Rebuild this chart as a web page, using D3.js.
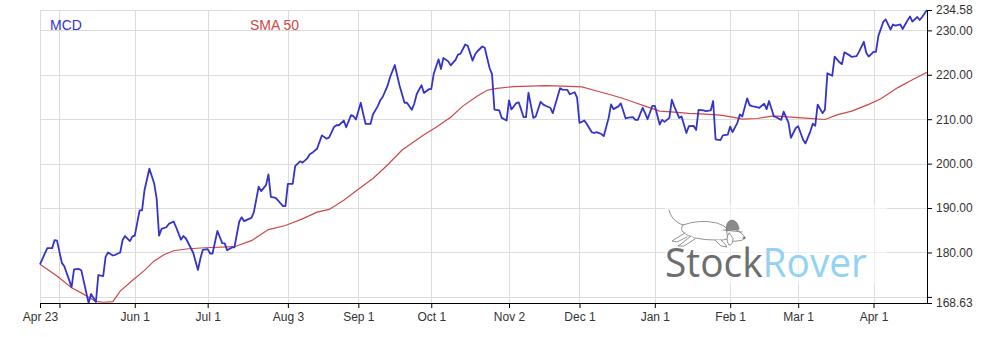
<!DOCTYPE html>
<html><head><meta charset="utf-8">
<script src="https://cdn.jsdelivr.net/npm/d3@7"></script>
<style>
html,body{margin:0;padding:0;background:#fff;}
svg{display:block;font-family:Arial,"Liberation Sans",sans-serif;}
</style></head><body>
<svg id="chart" width="987" height="337"></svg>
<script>
// ---------- data ----------
const seriesNames = ["MCD", "SMA 50"];
const xDomain = ["2020-04-23", "2021-04-23"];

const priceDates = [
"2020-04-23","2020-04-26","2020-04-28","2020-04-29","2020-04-30","2020-05-02","2020-05-03","2020-05-06","2020-05-07","2020-05-09",
"2020-05-10","2020-05-13","2020-05-14","2020-05-16","2020-05-17","2020-05-19","2020-05-20","2020-05-21","2020-05-23","2020-05-24",
"2020-05-26","2020-05-27","2020-05-28","2020-05-30","2020-05-31","2020-06-01","2020-06-03","2020-06-04","2020-06-05","2020-06-07",
"2020-06-09","2020-06-10","2020-06-11","2020-06-12","2020-06-14","2020-06-15","2020-06-17","2020-06-18","2020-06-20","2020-06-21",
"2020-06-22","2020-06-25","2020-06-27","2020-06-28","2020-06-29","2020-07-01","2020-07-02","2020-07-03","2020-07-05","2020-07-07",
"2020-07-08","2020-07-09","2020-07-11","2020-07-12","2020-07-14","2020-07-15","2020-07-16","2020-07-18","2020-07-19","2020-07-20",
"2020-07-22","2020-07-23","2020-07-25","2020-07-26","2020-07-27","2020-07-29","2020-08-01","2020-08-02","2020-08-03","2020-08-05",
"2020-08-06","2020-08-08","2020-08-09","2020-08-11","2020-08-12","2020-08-13","2020-08-15","2020-08-17","2020-08-19","2020-08-20",
"2020-08-22","2020-08-23","2020-08-24","2020-08-26","2020-08-27","2020-08-29","2020-08-30","2020-08-31","2020-09-02","2020-09-03",
"2020-09-04","2020-09-06","2020-09-07","2020-09-09","2020-09-10","2020-09-11","2020-09-13","2020-09-14","2020-09-16","2020-09-17",
"2020-09-18","2020-09-20","2020-09-21","2020-09-23","2020-09-24","2020-09-25","2020-09-27","2020-09-28","2020-09-30","2020-10-01",
"2020-10-02","2020-10-04","2020-10-05","2020-10-06","2020-10-08","2020-10-09","2020-10-11","2020-10-12","2020-10-13","2020-10-15",
"2020-10-16","2020-10-18","2020-10-19","2020-10-20","2020-10-22","2020-10-23","2020-10-25","2020-10-26","2020-10-27","2020-10-29",
"2020-10-30","2020-11-01","2020-11-02","2020-11-03","2020-11-05","2020-11-06","2020-11-08","2020-11-09","2020-11-10","2020-11-12",
"2020-11-13","2020-11-15","2020-11-16","2020-11-17","2020-11-19","2020-11-20","2020-11-23","2020-11-24","2020-11-26","2020-11-27",
"2020-11-29","2020-11-30","2020-12-01","2020-12-03","2020-12-04","2020-12-06","2020-12-07","2020-12-08","2020-12-10","2020-12-11",
"2020-12-13","2020-12-14","2020-12-15","2020-12-17","2020-12-18","2020-12-20","2020-12-21","2020-12-23","2020-12-24","2020-12-25",
"2020-12-27","2020-12-28","2020-12-29","2020-12-31","2021-01-01","2021-01-03","2021-01-04","2021-01-05","2021-01-07","2021-01-08",
"2021-01-09","2021-01-11","2021-01-12","2021-01-14","2021-01-15","2021-01-17","2021-01-18","2021-01-19","2021-01-21","2021-01-22",
"2021-01-24","2021-01-25","2021-01-26","2021-01-28","2021-01-29","2021-01-31","2021-02-01","2021-02-02","2021-02-04","2021-02-05",
"2021-02-06","2021-02-08","2021-02-09","2021-02-10","2021-02-12","2021-02-13","2021-02-15","2021-02-16","2021-02-17","2021-02-19",
"2021-02-20","2021-02-22","2021-02-23","2021-02-25","2021-02-26","2021-02-28","2021-03-01","2021-03-03","2021-03-04","2021-03-06",
"2021-03-07","2021-03-08","2021-03-09","2021-03-11","2021-03-12","2021-03-13","2021-03-15","2021-03-16","2021-03-18","2021-03-19",
"2021-03-20","2021-03-22","2021-03-23","2021-03-25","2021-03-26","2021-03-28","2021-03-29","2021-03-30","2021-04-01","2021-04-02",
"2021-04-03","2021-04-05","2021-04-06","2021-04-08","2021-04-09","2021-04-10","2021-04-12","2021-04-13","2021-04-14","2021-04-16",
"2021-04-17","2021-04-19","2021-04-20","2021-04-21","2021-04-23"
];
const priceValues = [
177.34,180.98,180.98,182.80,182.66,177.66,176.89,172.20,176.20,176.30,
175.98,168.63,170.68,168.86,174.93,174.70,179.02,180.00,179.32,179.48,
180.00,182.80,183.70,182.57,183.57,183.80,189.48,189.48,194.02,198.86,
195.52,192.11,183.80,185.30,185.68,186.43,186.98,185.68,182.89,183.70,
183.20,180.00,176.07,178.64,180.61,180.75,179.77,179.77,184.84,182.11,
182.05,180.52,181.14,181.14,186.98,187.95,187.05,187.57,187.80,189.09,
194.84,193.80,195.16,197.57,192.50,192.27,190.45,190.45,195.45,195.45,
199.43,200.52,200.23,201.20,202.11,202.43,203.34,206.36,205.61,205.91,
208.25,208.64,208.64,209.70,208.18,210.91,210.68,209.93,213.70,211.20,
208.93,208.93,211.07,212.95,214.25,215.00,217.50,219.39,222.20,219.77,
217.50,213.70,213.70,212.11,213.48,215.61,217.66,215.91,216.75,216.75,
220.16,223.48,221.30,223.80,223.02,222.11,223.34,224.55,224.70,226.82,
226.52,223.18,224.55,225.30,226.36,226.07,221.52,220.16,212.16,211.98,
210.30,209.70,214.25,212.20,213.64,213.80,210.45,210.45,215.98,210.30,
210.61,213.93,213.34,213.02,212.57,211.36,216.98,216.66,216.59,215.61,
216.07,214.84,209.16,209.70,208.93,207.11,206.89,207.11,206.66,206.20,
210.30,213.34,212.27,212.89,213.57,210.16,210.34,210.45,209.84,209.84,
212.57,211.36,210.00,213.02,213.02,208.80,209.84,209.39,210.30,214.39,
212.89,210.30,210.61,206.89,208.41,208.48,207.57,212.11,211.98,211.82,
211.98,214.09,205.45,205.30,206.36,206.52,208.34,207.11,209.25,211.07,
210.61,214.70,213.18,212.95,212.73,212.57,213.48,212.27,214.09,210.61,
210.45,209.84,211.70,209.25,205.80,208.02,208.41,205.39,204.55,207.27,
208.98,208.52,213.30,211.36,212.11,220.34,219.77,224.09,222.80,222.39,
225.05,224.43,224.02,224.20,225.16,227.43,224.95,224.09,225.16,225.16,
228.75,231.89,232.45,230.18,231.32,231.07,231.32,230.30,231.32,233.14,
231.98,233.00,232.32,233.00,234.58
];

const smaDates = [
"2020-04-23","2020-04-30","2020-05-06","2020-05-10","2020-05-13","2020-05-16","2020-05-19","2020-05-23","2020-05-26","2020-05-31",
"2020-06-05","2020-06-09","2020-06-13","2020-06-17","2020-06-23","2020-06-30","2020-07-12","2020-07-19","2020-07-26","2020-08-02",
"2020-08-09","2020-08-15","2020-08-20","2020-08-26","2020-08-31","2020-09-07","2020-09-13","2020-09-19","2020-09-24","2020-09-28",
"2020-10-03","2020-10-09","2020-10-14","2020-10-20","2020-10-24","2020-10-28","2020-11-04","2020-11-17","2020-11-24","2020-12-02",
"2020-12-07","2020-12-13","2020-12-18","2020-12-24","2020-12-28","2021-01-03","2021-01-09","2021-01-15","2021-01-22","2021-01-28",
"2021-02-02","2021-02-06","2021-02-12","2021-02-19","2021-02-26","2021-03-04","2021-03-12","2021-03-17","2021-03-23","2021-03-30",
"2021-04-04","2021-04-11","2021-04-17","2021-04-23"
];
const smaValues = [
177.34,174.70,172.05,170.91,169.93,169.00,168.80,168.95,171.30,173.70,
175.98,178.11,179.48,180.39,180.84,181.07,181.30,182.66,185.16,186.07,
187.57,189.09,189.70,191.75,193.86,196.66,199.70,203.07,205.00,206.52,
208.18,210.45,212.95,215.23,216.52,216.93,217.34,217.57,217.43,217.27,
216.52,215.61,214.84,213.70,212.95,211.82,211.59,211.30,211.14,210.91,
210.45,210.00,210.16,210.75,210.45,210.23,209.93,210.98,211.82,213.34,
214.61,217.11,218.86,220.57
];

const xTickDates = ["2020-04-23","2020-05-01","2020-06-01","2020-07-01","2020-08-03","2020-09-01","2020-10-01","2020-11-02","2020-12-01","2021-01-01","2021-02-01","2021-03-01","2021-04-01"];
const xTickLabels = ["Apr 23","","Jun 1","Jul 1","Aug 3","Sep 1","Oct 1","Nov 2","Dec 1","Jan 1","Feb 1","Mar 1","Apr 1"];
const yTickValues = [168.63,170,180,190,200,210,220,230,234.58];
const yTickLabels = ["168.63","","180.00","190.00","200.00","210.00","220.00","230.00","234.58"];
const yGridValues = [170,180,190,200,210,220,230,234.58];

// ---------- layout ----------
const W = 987, H = 337;
const plot = {left: 40, right: 927, top: 10, bottom: 303};
const colors = {price: "#3434c9", sma: "#cc4848", grid: "#dcdcdc", axisText: "#333"};

const parse = d3.utcParse("%Y-%m-%d");
const price = priceDates.map((d, i) => ({date: parse(d), value: priceValues[i]}));
const sma = smaDates.map((d, i) => ({date: parse(d), value: smaValues[i]}));

const x = d3.scaleUtc().domain(xDomain.map(parse)).range([plot.left, plot.right]);
const y = d3.scaleLinear().domain(d3.extent(priceValues)).range([plot.bottom, plot.top]);

const svg = d3.select("#chart");

// grid
const grid = svg.append("g").attr("shape-rendering", "crispEdges").attr("stroke", colors.grid).attr("stroke-width", 1);
grid.selectAll("line.h").data(yGridValues).join("line")
  .attr("x1", plot.left).attr("x2", plot.right)
  .attr("y1", d => Math.round(y(d)) + 0.5).attr("y2", d => Math.round(y(d)) + 0.5);
grid.selectAll("line.v").data(xTickDates).join("line")
  .attr("x1", d => Math.round(x(parse(d))) + 0.5).attr("x2", d => Math.round(x(parse(d))) + 0.5)
  .attr("y1", plot.top).attr("y2", plot.bottom);

// watermark logo
const logo = svg.append("g").attr("transform", "translate(665,205)");
logo.append("rect").attr("x", 0).attr("y", 0).attr("width", 222).attr("height", 80).attr("fill", "#fff").attr("opacity", 0.55);
const dog = logo.append("g").attr("fill", "#fff").attr("stroke", "#777").attr("stroke-width", 0.8).attr("stroke-linejoin", "round").attr("stroke-linecap", "round");
dog.append("path").attr("fill", "none").attr("d", "M4,5 Q6,13 12,17 Q15,19 18,20");
dog.append("path").attr("d", "M18,20 Q34,14 52,18 Q60,20 64,26 L66,33 Q58,36 50,35 Q40,35 30,33 Q22,31 18,27 Q15,24 18,20 Z");
dog.append("path").attr("d", "M20,28 L10,34 L7,36 L12,37 L22,32");
dog.append("path").attr("d", "M26,31 L16,39 L13,41 L19,41 L30,34");
dog.append("path").attr("d", "M50,35 L56,41 L62,42 L60,39 L56,35");
dog.append("path").attr("d", "M62,26 Q70,22 76,28 Q80,31 80,33 Q78,36 72,36 Q66,37 63,34 Z");
dog.append("path").attr("d", "M64,28 Q60,34 64,40 Q68,40 68,34 Z");
dog.append("circle").attr("cx", 79).attr("cy", 33).attr("r", 1).attr("fill", "#777");
dog.append("path").attr("fill", "#8a8a8a").attr("d", "M61,25 Q61,16 67,15 Q73,16 74,24 Z");
dog.append("path").attr("fill", "none").attr("d", "M58,25 L77,27");
const logoText = logo.append("text").attr("x", 0).attr("y", 72).attr("font-family", "'Open Sans', sans-serif")
  .attr("font-size", 41).attr("textLength", 202).attr("lengthAdjust", "spacingAndGlyphs");
logoText.append("tspan").attr("fill", "#6e6e6e").text("Stock");
logoText.append("tspan").attr("fill", "#92d2f4").text("Rover");

// series
const line = d3.line().x(d => x(d.date)).y(d => y(d.value));
svg.append("path").datum(sma).attr("fill", "none").attr("stroke", colors.sma).attr("stroke-width", 1.2).attr("d", line);
svg.append("path").datum(price).attr("fill", "none").attr("stroke", colors.price).attr("stroke-width", 1.8)
  .attr("stroke-linejoin", "round").attr("d", line);

// axes
const xAxis = d3.axisBottom(x).tickValues(xTickDates.map(parse))
  .tickFormat((d, i) => xTickLabels[i]).tickSize(5).tickSizeOuter(0).tickPadding(4);
const gx = svg.append("g").attr("transform", `translate(0,${plot.bottom})`).call(xAxis);
const yAxis = d3.axisRight(y).tickValues(yTickValues)
  .tickFormat((d, i) => yTickLabels[i]).tickSize(5).tickSizeOuter(0).tickPadding(4);
const gy = svg.append("g").attr("transform", `translate(${plot.right},0)`).call(yAxis);
[gx, gy].forEach(g => {
  g.selectAll("text").attr("fill", colors.axisText).attr("font-size", 12).attr("font-family", "Arial, 'Liberation Sans', sans-serif");
  g.select(".domain").attr("stroke", "#000");
  g.selectAll(".tick line").attr("stroke", "#000");
});

// legend labels
svg.append("text").attr("x", 50).attr("y", 30).attr("font-size", 14).attr("fill", colors.price).text(seriesNames[0]);
svg.append("text").attr("x", 250).attr("y", 30).attr("font-size", 14).attr("fill", colors.sma).text(seriesNames[1]);
</script>
</body></html>
